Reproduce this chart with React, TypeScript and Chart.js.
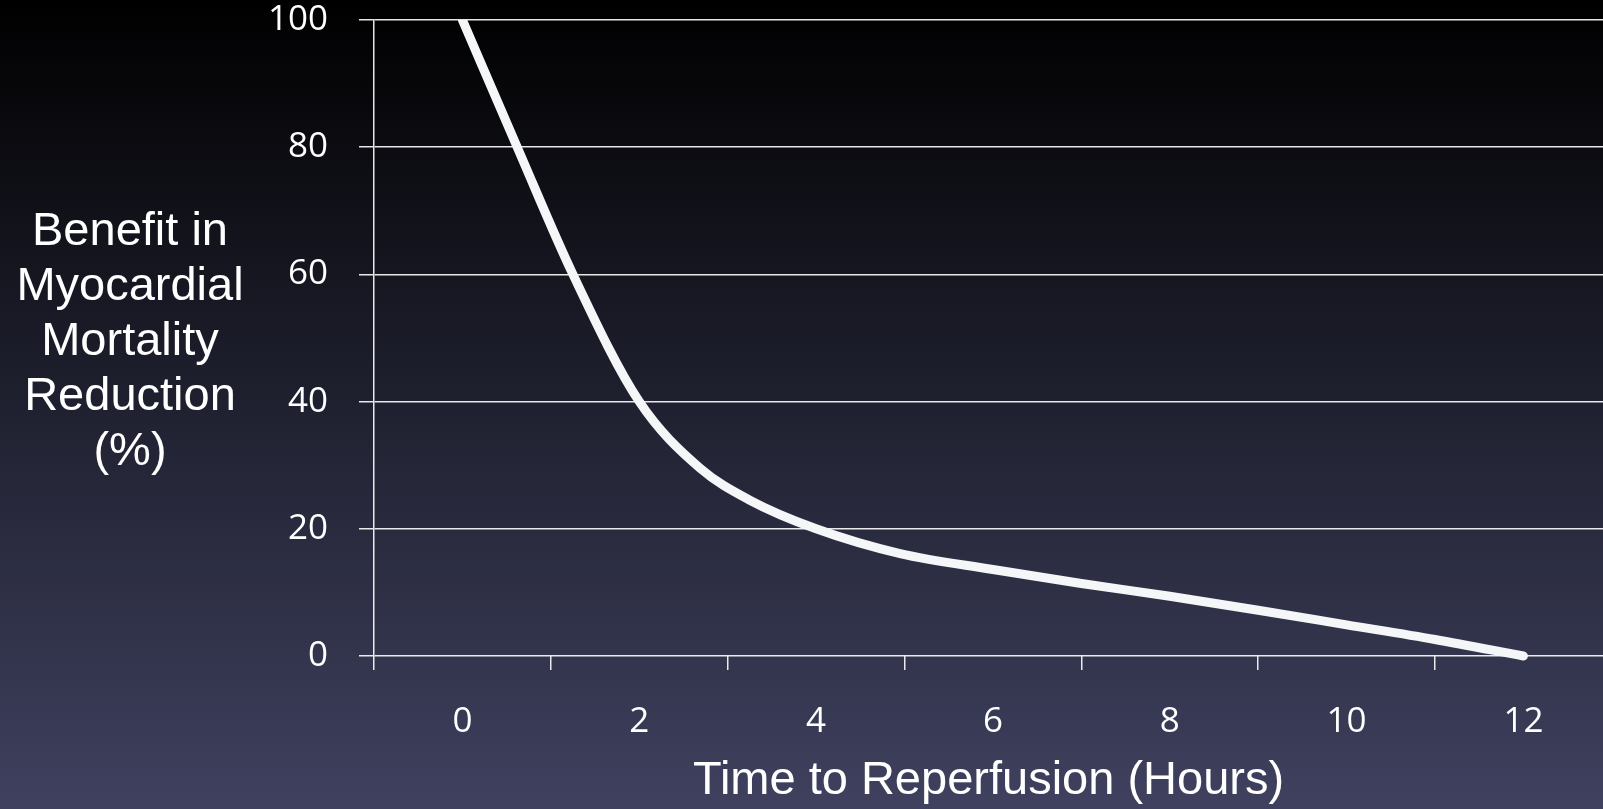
import React, { useEffect, useRef } from 'react';
import { Chart, registerables } from 'chart.js';

Chart.register(...registerables);

// ---- data ----
const hours = [0, 0.62, 1.25, 2, 2.69, 3.25, 4, 4.95, 6, 7, 8, 9, 10, 11, 12];
const benefit = [100, 80, 60, 40, 29.5, 24.5, 20, 16.1, 13.6, 11.4, 9.4, 7.2, 4.9, 2.6, 0];
const xTickLabels = ['0', '2', '4', '6', '8', '10', '12'];
const yTickLabels = ['0', '20', '40', '60', '80', '100'];
const yTitleLines = ['Benefit in', 'Myocardial', 'Mortality', 'Reduction', '(%)'];
const xTitle = 'Time to Reperfusion (Hours)';

const TICK_FONT = { family: '"Open Sans", Lato, sans-serif', size: 35 };
const GRID_COLOR = 'rgba(255,255,255,0.9)';

const backgroundPlugin = {
  id: 'bgGradient',
  beforeDraw(chart: any) {
    const { ctx, width, height } = chart;
    const g = ctx.createLinearGradient(0, 0, 0, height);
    g.addColorStop(0, '#000000');
    g.addColorStop(1, '#3f415f');
    ctx.save();
    ctx.fillStyle = g;
    ctx.fillRect(0, 0, width, height);
    ctx.restore();
  },
};

const yTitlePlugin = {
  id: 'yTitleHorizontal',
  afterDraw(chart: any) {
    const { ctx } = chart;
    ctx.save();
    ctx.fillStyle = '#ffffff';
    ctx.font = '47px "Liberation Sans", Arial, sans-serif';
    ctx.textAlign = 'center';
    ctx.textBaseline = 'middle';
    yTitleLines.forEach((line, i) => {
      ctx.fillText(line, 130, 232 + i * 55);
    });
    ctx.restore();
  },
};

export default function App() {
  const canvasRef = useRef<HTMLCanvasElement | null>(null);

  useEffect(() => {
    document.body.style.margin = '0';
    const canvas = canvasRef.current;
    if (!canvas) return;
    const chart = new Chart(canvas, {
      type: 'line',
      data: {
        datasets: [
          {
            data: hours.map((h, i) => ({ x: h, y: benefit[i] })),
            borderColor: '#f4f6f8',
            borderWidth: 9,
            pointRadius: 0,
            cubicInterpolationMode: 'monotone',
            borderCapStyle: 'round',
            borderJoinStyle: 'round',
            clip: { left: 5, top: 0, right: 5, bottom: 5 } as any,
          },
        ],
      },
      options: {
        animation: false,
        responsive: true,
        maintainAspectRatio: false,
        devicePixelRatio: 1,
        layout: { padding: { top: 20, left: 0, right: 0, bottom: 0 } },
        plugins: { legend: { display: false }, tooltip: { enabled: false } },
        scales: {
          x: {
            type: 'linear',
            min: -1,
            max: 12.9,
            afterFit(scale: any) {
              scale.height = 153;
              scale.paddingLeft = 0;
              scale.paddingRight = 0;
            },
            ticks: {
              stepSize: 1,
              includeBounds: false,
              autoSkip: false,
              maxRotation: 0,
              color: '#ffffff',
              font: TICK_FONT,
              padding: 31,
              callback: (value: any) => {
                const v = Number(value);
                return v >= 0 && v % 2 === 0 ? xTickLabels[v / 2] : '';
              },
            },
            grid: {
              drawOnChartArea: false,
              drawTicks: true,
              tickLength: 14,
              lineWidth: 1.5,
              tickColor: (ctx: any) =>
                ctx.tick && Math.abs(ctx.tick.value % 2) === 1 ? GRID_COLOR : 'rgba(0,0,0,0)',
            },
            border: { display: false },
            title: {
              display: true,
              text: xTitle,
              color: '#ffffff',
              font: { family: '"Liberation Sans", Arial, sans-serif', size: 47 },
              padding: { top: 0, bottom: 0 },
            },
          },
          y: {
            min: 0,
            max: 100,
            afterFit(scale: any) {
              scale.width = 374;
              scale.paddingTop = 0;
              scale.paddingBottom = 0;
            },
            ticks: {
              stepSize: 20,
              color: '#ffffff',
              font: TICK_FONT,
              padding: 31,
              callback: (value: any) => yTickLabels[Number(value) / 20],
            },
            grid: {
              color: GRID_COLOR,
              lineWidth: 1.5,
              tickLength: 15,
              drawTicks: true,
            },
            border: { display: true, color: GRID_COLOR, width: 1.5 },
          },
        },
      },
      plugins: [backgroundPlugin, yTitlePlugin],
    } as any);
    return () => chart.destroy();
  }, []);

  return (
    <div style={{ position: 'relative', width: 1603, height: 809 }}>
      <canvas ref={canvasRef} />
    </div>
  );
}
